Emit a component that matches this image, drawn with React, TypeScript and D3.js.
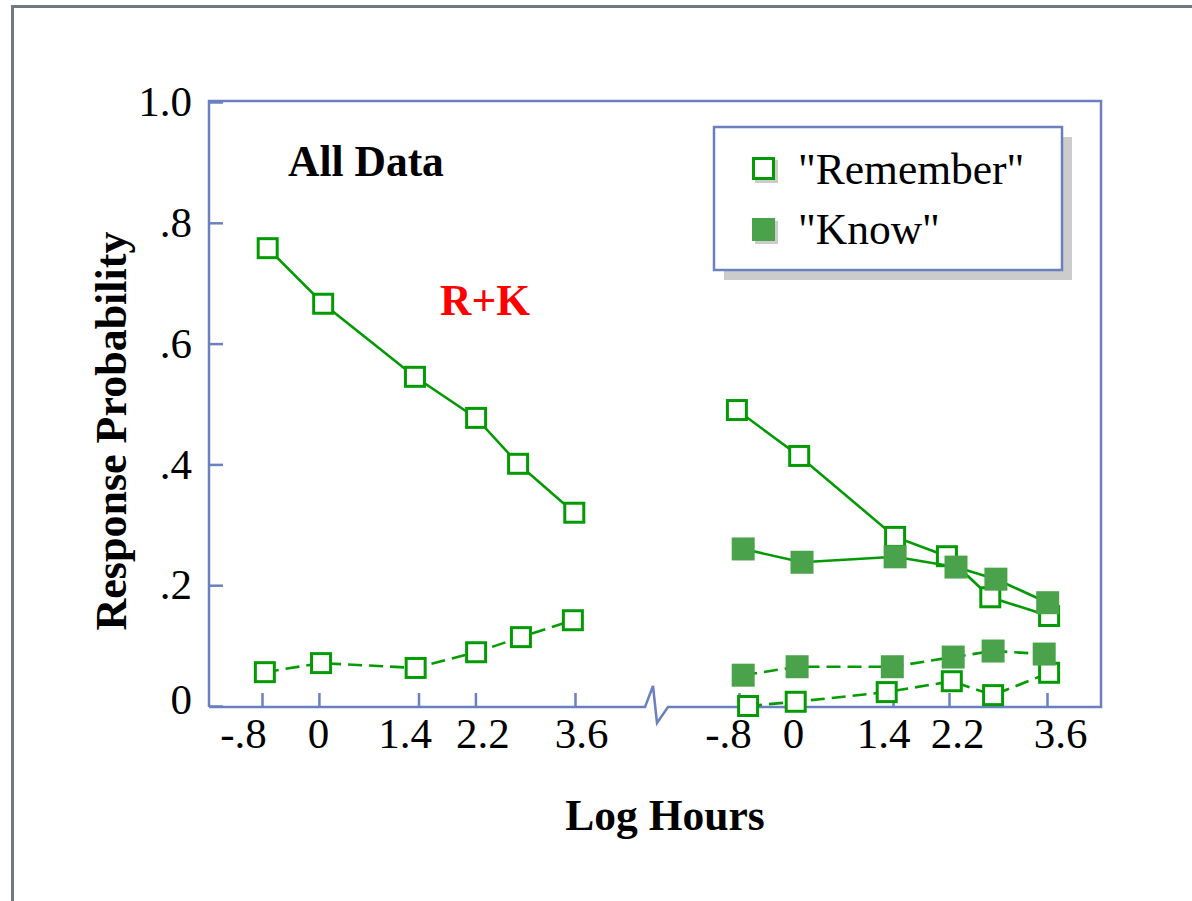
import React, { useEffect, useRef } from "react";
import * as d3 from "d3";

// tick values / labels
const hourTicks = [-0.8, 0, 1.4, 2.2, 3.6];
const hourTickLabels = ["-.8", "0", "1.4", "2.2", "3.6"];
const probTicks = [0, 0.2, 0.4, 0.6, 0.8, 1.0];
const probTickLabels = ["0", ".2", ".4", ".6", ".8", "1.0"];

// left panel (R+K) - hits and false alarms
const rkHours = [-0.72, 0.06, 1.35, 2.21, 2.8, 3.59];
const rkHits = [0.758, 0.666, 0.545, 0.477, 0.401, 0.32];
const rkFaHours = [-0.76, 0.03, 1.36, 2.21, 2.84, 3.57];
const rkFalseAlarms = [0.056, 0.071, 0.063, 0.089, 0.114, 0.142];

// right panel - "Remember" and "Know"
const rememberHours = [-0.83, 0.06, 1.43, 2.17, 2.79, 3.63];
const rememberHits = [0.49, 0.414, 0.28, 0.248, 0.18, 0.149];
const knowHours = [-0.74, 0.1, 1.43, 2.3, 2.87, 3.61];
const knowHits = [0.26, 0.238, 0.247, 0.23, 0.21, 0.171];
const rememberFaHours = [-0.67, 0.01, 1.31, 2.24, 2.83, 3.63];
const rememberFalseAlarms = [0.0, 0.007, 0.023, 0.041, 0.018, 0.055];
const knowFaHours = [-0.74, 0.03, 1.39, 2.26, 2.83, 3.56];
const knowFalseAlarms = [0.051, 0.065, 0.065, 0.081, 0.091, 0.086];

const GREEN = "#049a04";
const KNOW_FILL = "#4aa34a";
const BLUE = "#6a80c0";
const SERIF = "'Liberation Serif', 'Times New Roman', serif";

// the original tick labels are not exactly centred under their ticks
const leftLabelShift = [-19, -1, -14, 7, 6];
const rightLabelShift = [-11, -2, -10, 8, 13];

export default function App() {
  const ref = useRef<SVGSVGElement>(null);

  useEffect(() => {
    const svg = d3.select(ref.current);
    svg.selectAll("*").remove();

    // frame of the plot
    const left = 209, right = 1101, top = 101, bottom = 707;

    const y = d3.scaleLinear().domain([0, 1]).range([706, 102]);
    const xLeft = d3.scaleLinear().domain([-0.8, 3.6]).range([262, 575]);
    const xRight = d3.scaleLinear().domain([-0.8, 3.6]).range([739, 1047]);

    // outer gray border
    svg.append("path")
      .attr("d", "M12.5,901 L12.5,6.5 L1192,6.5")
      .attr("fill", "none")
      .attr("stroke", "#6f7a80")
      .attr("stroke-width", 3);

    // plot box with axis break on the bottom
    svg.append("path")
      .attr("d",
        `M${left},${bottom} L${left},${top} L${right},${top} L${right},${bottom} ` +
        `L668,${bottom} L657,723 L653,686 L645,${bottom} L${left},${bottom}`)
      .attr("fill", "none")
      .attr("stroke", BLUE)
      .attr("stroke-width", 2.5)
      .attr("stroke-linejoin", "miter");

    // y axis
    svg.append("g")
      .attr("transform", `translate(${left},0)`)
      .call(d3.axisLeft(y)
        .tickValues(probTicks)
        .tickSize(-14)
        .tickPadding(17)
        .tickFormat((d, i) => probTickLabels[i]))
      .call(g => g.select(".domain").remove())
      .call(g => g.selectAll("line").attr("stroke", BLUE).attr("stroke-width", 2.5))
      .call(g => g.selectAll("text")
        .attr("font-size", 43)
        .attr("font-family", SERIF)
        .attr("fill", "#000"))
      .call(g => g.selectAll(".tick").filter((d) => d === 0).select("text").attr("y", -6));

    // x axes, one per panel
    [{ x: xLeft, shift: leftLabelShift }, { x: xRight, shift: rightLabelShift }].forEach(p => {
      svg.append("g")
        .attr("transform", `translate(0,${bottom})`)
        .call(d3.axisBottom(p.x)
          .tickValues(hourTicks)
          .tickSize(-14)
          .tickPadding(10)
          .tickFormat((d, i) => hourTickLabels[i]))
        .call(g => g.select(".domain").remove())
        .call(g => g.selectAll("line").attr("stroke", BLUE).attr("stroke-width", 2.5))
        .call(g => g.selectAll("text")
          .attr("font-size", 43)
          .attr("font-family", SERIF)
          .attr("fill", "#000")
          .attr("x", (d, i) => p.shift[i]));
    });

    // axis titles
    svg.append("text")
      .attr("x", 665)
      .attr("y", 830)
      .attr("text-anchor", "middle")
      .attr("font-family", SERIF)
      .attr("font-weight", "bold")
      .attr("font-size", 43.5)
      .text("Log Hours");

    svg.append("text")
      .attr("transform", "translate(126,431) rotate(-90)")
      .attr("text-anchor", "middle")
      .attr("font-family", SERIF)
      .attr("font-weight", "bold")
      .attr("font-size", 44)
      .text("Response Probability");

    // annotations
    svg.append("text")
      .attr("x", 288)
      .attr("y", 176)
      .attr("font-family", SERIF)
      .attr("font-weight", "bold")
      .attr("font-size", 43.5)
      .text("All Data");

    svg.append("text")
      .attr("x", 440)
      .attr("y", 315)
      .attr("font-family", SERIF)
      .attr("font-weight", "bold")
      .attr("font-size", 43.5)
      .attr("fill", "#ff0000")
      .text("R+K");

    // series
    const series = [
      { x: xLeft, hours: rkHours, vals: rkHits, filled: false, dashed: false },
      { x: xLeft, hours: rkFaHours, vals: rkFalseAlarms, filled: false, dashed: true },
      { x: xRight, hours: rememberFaHours, vals: rememberFalseAlarms, filled: false, dashed: true },
      { x: xRight, hours: knowFaHours, vals: knowFalseAlarms, filled: true, dashed: true },
      { x: xRight, hours: rememberHours, vals: rememberHits, filled: false, dashed: false },
      { x: xRight, hours: knowHours, vals: knowHits, filled: true, dashed: false },
    ];

    series.forEach(s => {
      const pts: [number, number][] = s.hours.map((h, i) => [s.x(h), y(s.vals[i])]);
      svg.append("path")
        .attr("d", d3.line()(pts))
        .attr("fill", "none")
        .attr("stroke", GREEN)
        .attr("stroke-width", 2.6)
        .attr("stroke-dasharray", s.dashed ? "14,7" : null);

      svg.append("g")
        .selectAll("rect")
        .data(pts)
        .enter()
        .append("rect")
        .attr("x", d => d[0] - (s.filled ? 11.5 : 9.5))
        .attr("y", d => d[1] - (s.filled ? 11.5 : 9.5))
        .attr("width", s.filled ? 23 : 19)
        .attr("height", s.filled ? 23 : 19)
        .attr("fill", s.filled ? KNOW_FILL : "#fff")
        .attr("stroke", s.filled ? "none" : GREEN)
        .attr("stroke-width", 3);
    });

    // legend
    const lg = svg.append("g");
    lg.append("rect")
      .attr("x", 724).attr("y", 137)
      .attr("width", 348).attr("height", 143)
      .attr("fill", "#cccccc");
    lg.append("rect")
      .attr("x", 714).attr("y", 127)
      .attr("width", 348).attr("height", 143)
      .attr("fill", "#fff")
      .attr("stroke", BLUE)
      .attr("stroke-width", 2.5);

    const legendItems = [
      { label: "\"Remember\"", filled: false, cy: 169, baseline: 184 },
      { label: "\"Know\"", filled: true, cy: 230, baseline: 244 },
    ];
    legendItems.forEach(it => {
      lg.append("rect")
        .attr("x", 755).attr("y", it.cy - 9)
        .attr("width", 23).attr("height", 23)
        .attr("fill", "#cccccc");
      lg.append("rect")
        .attr("x", it.filled ? 752 : 753.5)
        .attr("y", it.filled ? it.cy - 12 : it.cy - 10.5)
        .attr("width", it.filled ? 23 : 20)
        .attr("height", it.filled ? 23 : 20)
        .attr("fill", it.filled ? KNOW_FILL : "#fff")
        .attr("stroke", it.filled ? "none" : GREEN)
        .attr("stroke-width", 3);
      lg.append("text")
        .attr("x", 798)
        .attr("y", it.baseline)
        .attr("font-family", SERIF)
        .attr("font-size", 43.5)
        .text(it.label);
    });
  }, []);

  return (
    <svg
      ref={ref}
      width={1192}
      height={901}
      style={{ position: "absolute", left: 0, top: 0, background: "#fff" }}
    />
  );
}
